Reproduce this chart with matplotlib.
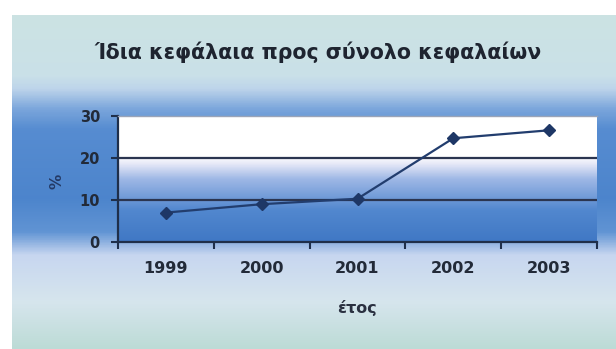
import numpy as np
import matplotlib
matplotlib.use("Agg")
import matplotlib.pyplot as plt
from matplotlib.colors import LinearSegmentedColormap
from matplotlib.ticker import FixedLocator

plt.rcParams['font.family'] = ['DejaVu Sans']

# Data
years = ["1999", "2000", "2001", "2002", "2003"]
equity_ratio = [7.0, 9.0, 10.3, 24.7, 26.6]
y_ticks = [0, 10, 20, 30]
title = "Ίδια κεφάλαια προς σύνολο κεφαλαίων"
x_label = "έτος"
y_label = "%"

W, H = 616, 349
fig = plt.figure(figsize=(W / 100, H / 100), dpi=100, facecolor="white")

# Chart-area background with vertical colour gradient
bg_ax = fig.add_axes([12 / W, 0, 1 - 12 / W, 334 / H])
bg_ax.set_axis_off()
stops = [
    (0.00, (0.80, 0.89, 0.89)),
    (0.18, (0.79, 0.88, 0.91)),
    (0.22, (0.74, 0.83, 0.92)),
    (0.28, (0.48, 0.65, 0.86)),
    (0.34, (0.34, 0.55, 0.82)),
    (0.55, (0.30, 0.52, 0.80)),
    (0.65, (0.38, 0.58, 0.83)),
    (0.72, (0.78, 0.84, 0.94)),
    (0.86, (0.84, 0.90, 0.93)),
    (1.00, (0.74, 0.86, 0.84)),
]
bg_cmap = LinearSegmentedColormap.from_list("bg", stops)
grad = np.linspace(0, 1, 400).reshape(-1, 1)
bg_ax.imshow(grad, aspect="auto", cmap=bg_cmap, extent=[0, 1, 0, 1],
             origin="upper", interpolation="bilinear")
bg_ax.set_xlim(0, 1)
bg_ax.set_ylim(0, 1)

# Plot axes
ax = fig.add_axes([118 / W, 1 - 242 / H, (597 - 118) / W, (242 - 116) / H])
ax.set_xlim(-0.5, len(years) - 0.5)
ax.set_ylim(0, 30)

plot_stops = [
    (0.00, (0.25, 0.47, 0.77)),
    (0.25, (0.32, 0.53, 0.81)),
    (0.50, (0.62, 0.72, 0.90)),
    (0.62, (0.90, 0.91, 0.97)),
    (0.68, (1.0, 1.0, 1.0)),
    (1.00, (1.0, 1.0, 1.0)),
]
plot_cmap = LinearSegmentedColormap.from_list("plotbg", plot_stops)
pg = np.linspace(1, 0, 300).reshape(-1, 1)
ax.imshow(pg, aspect="auto", cmap=plot_cmap, vmin=0, vmax=1,
          extent=[-0.5, len(years) - 0.5, 0, 30], origin="upper",
          interpolation="bilinear", zorder=0)

# Gridlines
for yv in y_ticks[1:-1]:
    ax.axhline(yv, color="#2b3550", lw=1.6, zorder=1)

x = np.arange(len(years))
ax.plot(x, equity_ratio, color="#223d6e", lw=1.6, marker="D", ms=6.5,
        mfc="#1e3766", mec="#1e3766", zorder=3)

ax.set_yticks(y_ticks)
ax.set_yticklabels([str(v) for v in y_ticks], fontsize=10.5, fontweight="bold",
                   color="#222a38")
ax.set_xticks(x)
ax.set_xticklabels(years, fontsize=11.5, fontweight="bold", color="#222a38")
ax.tick_params(axis="x", which="major", length=0, pad=14)
ax.xaxis.set_minor_locator(FixedLocator(np.arange(-0.5, len(years), 1.0)))
ax.tick_params(axis="x", which="minor", length=5, width=1.5, color="#1f2f4a",
               direction="out")
ax.tick_params(axis="y", length=5, width=1.5, color="#1f2f4a", pad=8)

for s in ["left", "bottom"]:
    ax.spines[s].set_color("#1f2f4a")
    ax.spines[s].set_linewidth(1.6)
ax.spines["top"].set_color("#9aa4b8")
ax.spines["top"].set_linewidth(1.0)
ax.spines["right"].set_visible(False)

fig.text(318 / W, 1 - 52 / H, title, fontsize=14.8,
         fontweight="bold", color="#1e2430", ha="center", va="center")
fig.text(357 / W, 1 - 308 / H, x_label, fontsize=11.5, fontweight="bold",
         color="#2a3040", ha="center", va="center")
fig.text(57 / W, 1 - 181 / H, y_label, fontsize=11, fontweight="bold",
         color="#243a66", ha="center", va="center", rotation=90)

fig.savefig("out.png", dpi=100, facecolor=fig.get_facecolor())
